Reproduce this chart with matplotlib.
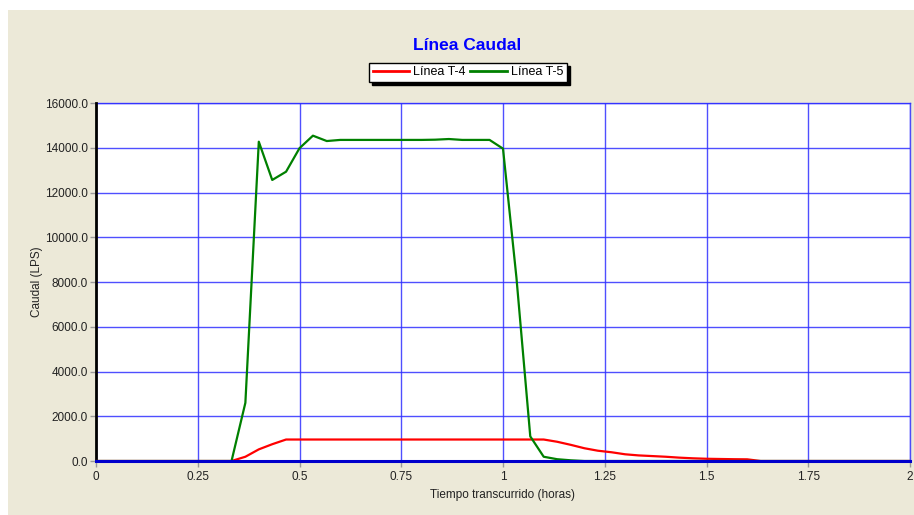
import matplotlib
matplotlib.use("Agg")
import matplotlib.pyplot as plt
from matplotlib.patches import Rectangle

# Flow series (time in hours, flow in LPS)
t4_time = [0.0, 0.333, 0.367, 0.4, 0.433, 0.467, 1.1, 1.133, 1.167, 1.2, 1.233,
           1.267, 1.3, 1.333, 1.367, 1.4, 1.433, 1.467, 1.5, 1.533, 1.567, 1.6,
           1.633, 2.0]
t4_flow = [0, 0, 190, 520, 750, 960, 960, 860, 720, 570, 460,
           390, 300, 250, 220, 190, 150, 120, 100, 90, 80, 75,
           0, 0]

t5_time = [0.0, 0.333, 0.367, 0.4, 0.433, 0.467, 0.5, 0.533, 0.567, 0.6, 0.633,
           0.667, 0.7, 0.733, 0.767, 0.8, 0.833, 0.867, 0.9, 0.933, 0.967, 1.0,
           1.033, 1.067, 1.1, 1.133, 1.167, 1.2, 2.0]
t5_flow = [0, 0, 2600, 14270, 12560, 12930, 13980, 14540, 14300, 14350, 14350,
           14350, 14350, 14350, 14350, 14350, 14360, 14390, 14350, 14350, 14350, 13960,
           8200, 1100, 190, 80, 30, 0, 0]

x_ticks = [0, 0.25, 0.5, 0.75, 1, 1.25, 1.5, 1.75, 2]
x_tick_labels = ["0", "0.25", "0.5", "0.75", "1", "1.25", "1.5", "1.75", "2"]
y_ticks = [0, 2000, 4000, 6000, 8000, 10000, 12000, 14000, 16000]
y_tick_labels = [f"{v:.1f}" for v in y_ticks]

W, H = 914, 515
fig = plt.figure(figsize=(W / 100, H / 100), dpi=100)
fig.patch.set_facecolor("white")
bg = "#ECE9D8"
fig.add_artist(Rectangle((8 / W, 0), 1 - 8 / W, 1 - 10 / H,
                         transform=fig.transFigure, facecolor=bg,
                         edgecolor="none", zorder=-10))

ax = fig.add_axes([96 / W, 1 - 461 / H, (910 - 96) / W, (461 - 103) / H])
ax.set_facecolor("white")

font = "Liberation Sans"
ax.plot(t4_time, t4_flow, color="#FF0000", lw=1.6, label="Línea T-4",
        zorder=3, solid_joinstyle="round")
ax.plot(t5_time, t5_flow, color="#008000", lw=1.6, label="Línea T-5",
        zorder=3, solid_joinstyle="round")

ax.set_xlim(0, 2)
ax.set_ylim(0, 16000)
ax.set_xticks(x_ticks)
ax.set_xticklabels(x_tick_labels, fontsize=8.5, family=font, color="#222222")
ax.set_yticks(y_ticks)
ax.set_yticklabels(y_tick_labels, fontsize=8.5, family=font, color="#222222")
ax.tick_params(axis="both", length=4, width=1, color="#999999", pad=2)
ax.tick_params(axis="x", pad=3.5)

ax.grid(True, color="#3030FF", lw=1, alpha=0.85, zorder=1)
ax.set_axisbelow(True)

for side in ("top", "right"):
    ax.spines[side].set_visible(False)
ax.spines["left"].set_color("black")
ax.spines["left"].set_linewidth(2)
ax.spines["bottom"].set_visible(False)
ax.axhline(0, color="#0000CC", lw=2.2, zorder=5, clip_on=False)
ax.axvline(2, color="#3030FF", lw=1, alpha=0.85, zorder=1, clip_on=False)
ax.axhline(16000, color="#3030FF", lw=1, alpha=0.85, zorder=1, clip_on=False)

ax.set_xlabel("Tiempo transcurrido (horas)", fontsize=8.5, family=font,
              color="#222222", labelpad=4)
ax.set_ylabel("Caudal (LPS)", fontsize=8.5, family=font, color="#222222",
              labelpad=1)

fig.text(467 / W, 1 - 45 / H, "Línea Caudal", ha="center", va="center",
         fontsize=12.5, fontweight="bold", color="#0000FF", family=font)

leg = fig.legend(loc="center", bbox_to_anchor=(468 / W, 1 - 72.5 / H), ncol=2,
                 frameon=True, fancybox=False,
                 shadow={"color": "black", "alpha": 1},
                 prop={"family": font, "size": 9},
                 handlelength=2.9, handletextpad=0.35, columnspacing=0.35,
                 borderpad=0.3, borderaxespad=0)
leg.get_frame().set_edgecolor("black")
leg.get_frame().set_linewidth(1)
for line in leg.get_lines():
    line.set_linewidth(2)

fig.savefig("out.png", dpi=100, facecolor=fig.get_facecolor())
